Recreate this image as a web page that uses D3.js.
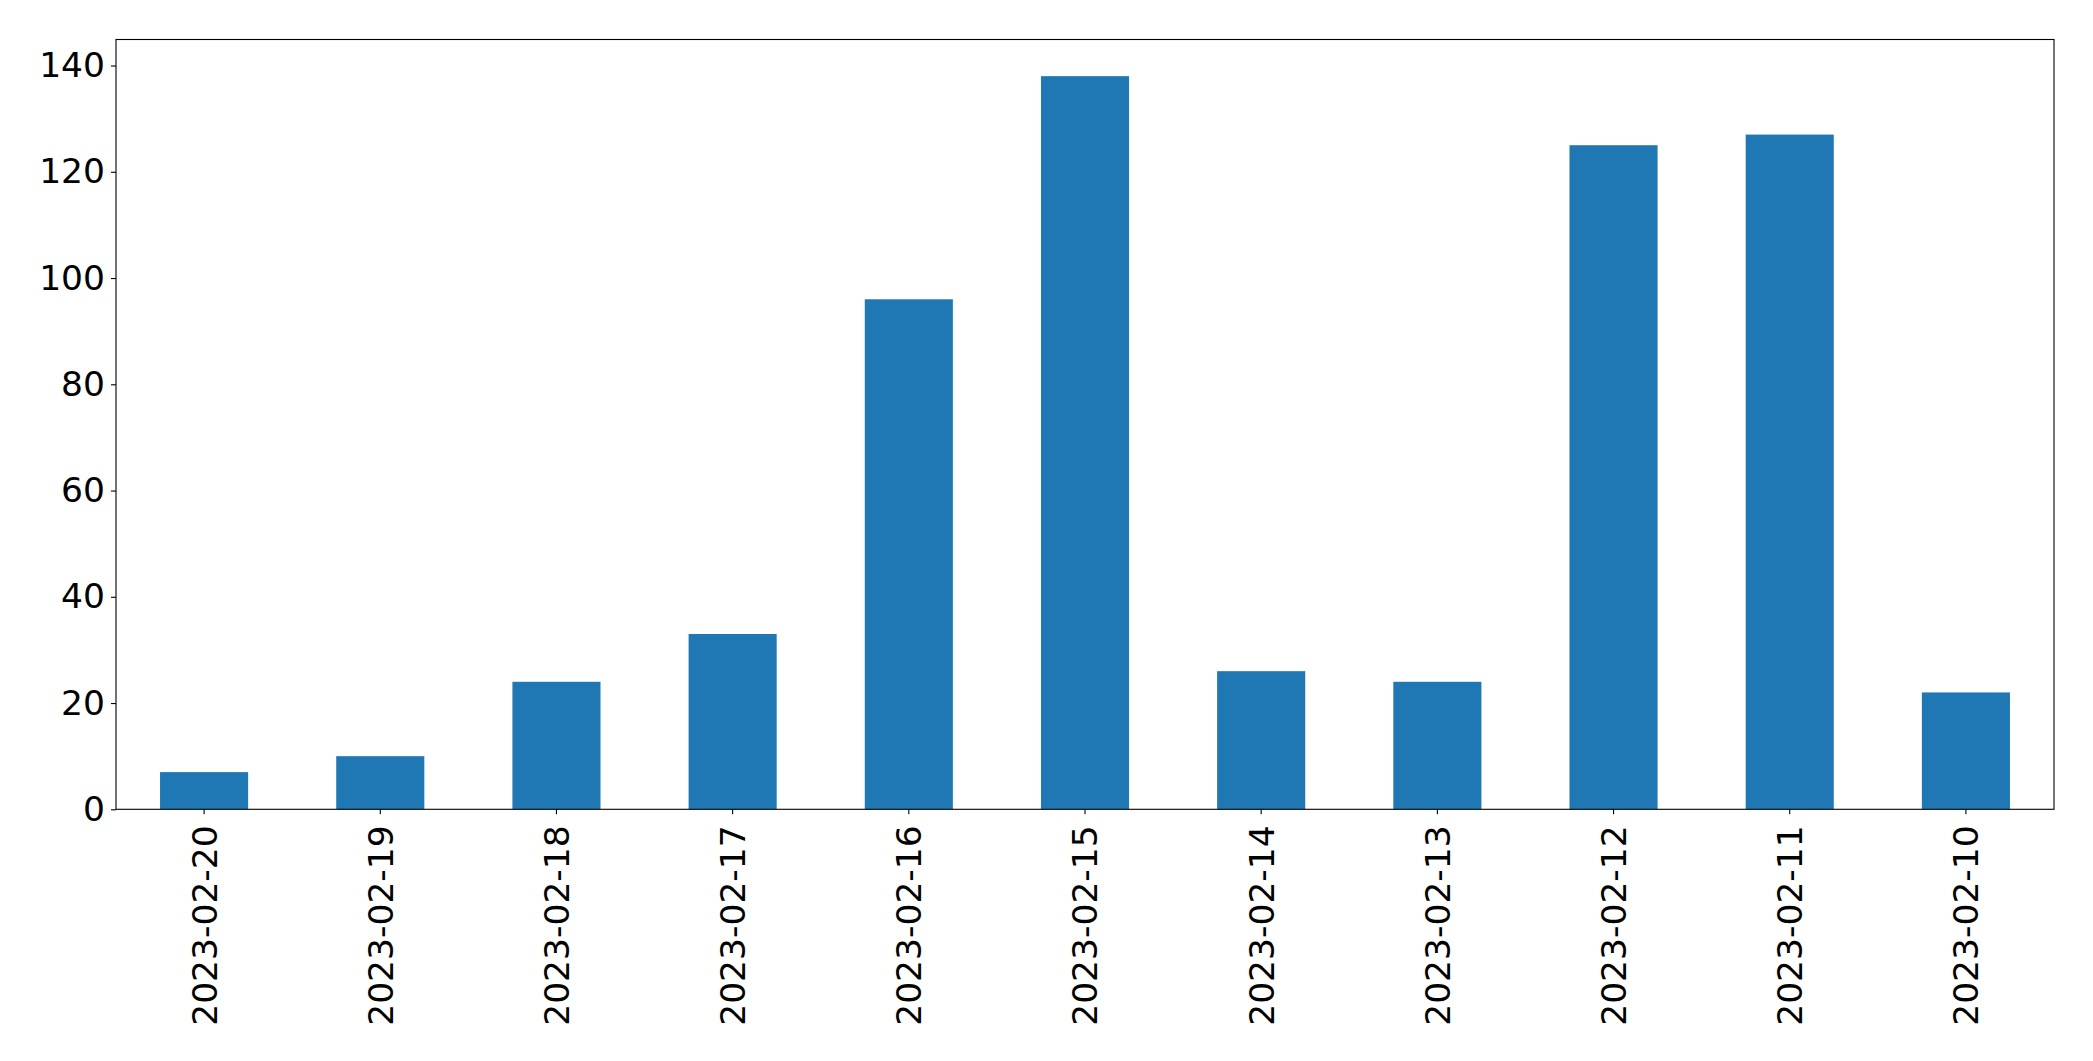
<!DOCTYPE html>
<html>
<head>
<meta charset="utf-8">
<script src="https://cdn.jsdelivr.net/npm/d3@7"></script>
<style>
  html, body { margin: 0; padding: 0; background: #fff; }
  svg { display: block; }
  text { font-family: "DejaVu Sans", sans-serif; }
</style>
</head>
<body>
<script>
const categories = ["2023-02-20","2023-02-19","2023-02-18","2023-02-17","2023-02-16","2023-02-15","2023-02-14","2023-02-13","2023-02-12","2023-02-11","2023-02-10"];
const values = [7, 10, 24, 33, 96, 138, 26, 24, 125, 127, 22];
const yTicks = [0, 20, 40, 60, 80, 100, 120, 140];

const W = 2093, H = 1061;
const margin = {left: 116, right: W - 2054, top: 39.5, bottom: H - 809.3};
const iw = W - margin.left - margin.right;
const ih = H - margin.top - margin.bottom;

const svg = d3.select("body").append("svg").attr("width", W).attr("height", H);
const g = svg.append("g").attr("transform", `translate(${margin.left},${margin.top})`);

const x = d3.scaleBand().domain(categories).range([0, iw]).paddingInner(0.5).paddingOuter(0.25);
const yMax = d3.max(values) * 1.05;
const y = d3.scaleLinear().domain([0, yMax]).range([ih, 0]);

g.selectAll("rect.bar").data(values).enter().append("rect")
  .attr("class", "bar")
  .attr("x", (d, i) => x(categories[i]))
  .attr("y", d => y(d))
  .attr("width", x.bandwidth())
  .attr("height", d => y(0) - y(d))
  .attr("fill", "#1f77b4");

const fs = 34.5;
const yAxis = g.append("g").call(d3.axisLeft(y).tickValues(yTicks).tickSize(5).tickPadding(6).tickFormat(d3.format("d")));
yAxis.select(".domain").remove();
yAxis.selectAll("text").attr("font-size", fs).attr("font-family", "DejaVu Sans").attr("fill", "#000");
yAxis.selectAll("line").attr("stroke", "#000").attr("stroke-width", 1.1);

const xAxis = g.append("g").attr("transform", `translate(0,${ih})`)
  .call(d3.axisBottom(x).tickSize(5).tickPadding(0));
xAxis.select(".domain").remove();
xAxis.selectAll("line").attr("stroke", "#000").attr("stroke-width", 1.1);
xAxis.selectAll("text")
  .attr("font-size", fs).attr("font-family", "DejaVu Sans").attr("fill", "#000")
  .attr("text-anchor", "end")
  .attr("transform", "translate(0,16) rotate(-90)")
  .attr("x", 0).attr("y", 0).attr("dy", "0.36em");

g.append("rect").attr("x", 0).attr("y", 0).attr("width", iw).attr("height", ih)
  .attr("fill", "none").attr("stroke", "#000").attr("stroke-width", 1.1);
</script>
</body>
</html>
